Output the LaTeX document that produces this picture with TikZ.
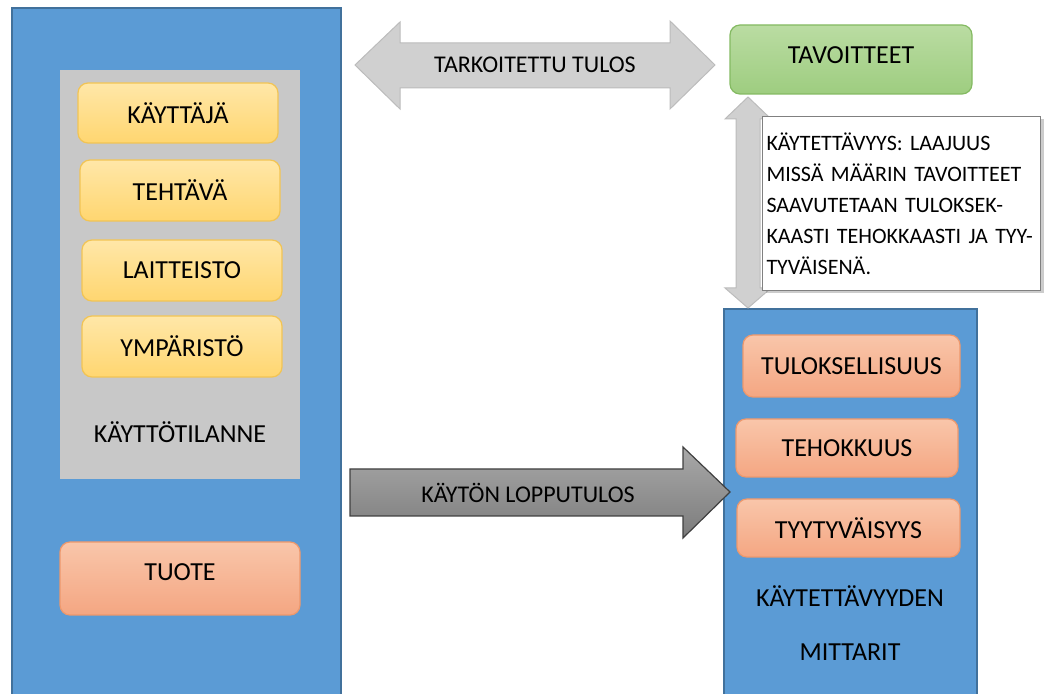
\documentclass[tikz,border=0pt]{standalone}
\usepackage{fontspec}
\setmainfont{Carlito}
\usetikzlibrary{fit,calc,shadows}
\definecolor{B}{RGB}{91,155,213}
\definecolor{Bline}{RGB}{65,113,156}
\definecolor{S}{RGB}{200,200,200}
\definecolor{Ytop}{RGB}{255,231,168}
\definecolor{Ybot}{RGB}{255,214,112}
\definecolor{Yline}{RGB}{242,196,84}
\definecolor{Otop}{RGB}{249,198,170}
\definecolor{Obot}{RGB}{244,166,130}
\definecolor{Oline}{RGB}{238,152,108}
\definecolor{Gtop}{RGB}{186,220,162}
\definecolor{Gbot}{RGB}{158,205,128}
\definecolor{Gline}{RGB}{132,186,98}
\definecolor{A}{RGB}{208,208,208}
\definecolor{Aline}{RGB}{188,188,188}
\definecolor{Dtop}{RGB}{168,168,168}
\definecolor{Dbot}{RGB}{124,124,124}
\tikzset{
  panel/.style={draw=Bline, fill=B, line width=1pt, inner sep=0pt},
  situation/.style={fill=S, inner sep=0pt},
  boxtext/.style={font=\fontsize{13}{15}\selectfont, inner sep=0pt},
  factor/.style={draw=Yline, line width=.6pt, top color=Ytop, bottom color=Ybot,
    rounded corners=5pt, inner sep=0pt, label={[boxtext]center:#1}},
  measure/.style={draw=Oline, line width=.6pt, top color=Otop, bottom color=Obot,
    rounded corners=5pt, inner sep=0pt, label={[boxtext]center:#1}},
  product/.style={draw=Oline, line width=.6pt, top color=Otop, bottom color=Obot,
    rounded corners=5pt, inner sep=0pt, label={[boxtext, yshift=3pt]center:#1}},
  goal/.style={draw=Gline, line width=.6pt, top color=Gtop, bottom color=Gbot,
    rounded corners=5pt, inner sep=0pt, label={[boxtext, yshift=2pt]center:#1}},
  paneltext/.style={font=\fontsize{13}{15}\selectfont},
  arrowtext/.style={font=\fontsize{12}{14}\selectfont},
  notebox/.style={draw=gray, fill=white, line width=.5pt, anchor=north west,
    text width=135pt, inner xsep=2pt, minimum height=87pt, align=left,
    drop shadow={shadow xshift=1.5pt, shadow yshift=-1.5pt, opacity=.4},
    font=\fontsize{11}{15.5}\selectfont\frenchspacing},
  larrow/.style={fill=A, draw=Aline, line width=.5pt},
  darrow/.style={top color=Dtop, bottom color=Dbot, draw=black!75, line width=.6pt}
}
\begin{document}
\begin{tikzpicture}[x=0.5pt, y=-0.5pt]
\useasboundingbox (0,0) rectangle (1045,694);
% left column: context of use and product
\node[panel, fit={(12,8) (341,698)}] (ctx) {};
\node[situation, fit={(60,70) (300,479)}] (sit) {};
\node[factor=KÄYTTÄJÄ, fit={(78,83) (278,143)}] (user) {};
\node[factor=TEHTÄVÄ, fit={(80,160) (280,221)}] (task) {};
\node[factor=LAITTEISTO, fit={(82,240) (282,301)}] (equip) {};
\node[factor=YMPÄRISTÖ, fit={(82,316) (282,377)}] (env) {};
\node[paneltext] (sitt) at (180,432) {KÄYTTÖTILANNE};
\node[product=TUOTE, fit={(60,542) (300,615)}] (prod) {};
% right column: goals and measures
\node[goal=TAVOITTEET, fit={(730,25) (972,94)}] (goals) {};
\node[panel, fit={(724,309) (977,698)}] (mit) {};
\node[measure=TULOKSELLISUUS, fit={(743,335) (960,397)}] (eff) {};
\node[measure=TEHOKKUUS, fit={(736,419) (958,477)}] (effic) {};
\node[measure=TYYTYVÄISYYS, fit={(737,499) (960,557)}] (sat) {};
\node[paneltext] (mitt1) at (850,596) {KÄYTETTÄVYYDEN};
\node[paneltext] (mitt2) at (850,652) {MITTARIT};
% intended outcome
\coordinate (tl) at (355,65);
\coordinate (tr) at (715,65);
\draw[larrow] (tl) -- ++(45,-43) -- ++(0,21) -- ($(tr)+(-45,-22)$) -- ++(0,-22) -- (tr)
  -- ++(-45,44) -- ++(0,-21) -- ($(tl)+(45,23)$) -- ++(0,21) -- cycle;
\node[arrowtext] (intended) at ($(tl)!.5!(tr)$) {TARKOITETTU TULOS};
% outcome of use
\coordinate (bs) at (350,492);
\coordinate (be) at (730,492);
\draw[darrow] ($(bs)+(0,-23)$) -- ($(be)+(-47,-23)$) -- ++(0,-22) -- (be) -- ++(-47,46)
  -- ++(0,-22) -- ($(bs)+(0,24)$) -- cycle;
\node[arrowtext] (outcome) at (528,493) {KÄYTÖN LOPPUTULOS};
% usability link
\coordinate (vt) at (748,97);
\coordinate (vb) at (748,308);
\draw[larrow] (vt) -- ++(23,22) -- ++(-11,0) -- ($(vb)+(12,-20)$) -- ++(11,0) -- (vb)
  -- ++(-23,-20) -- ++(11,0) -- ($(vt)+(-12,22)$) -- ++(-11,0) -- cycle;
\node[notebox] (note) at (762,116) {KÄYTETTÄVYYS: LAAJUUS\\MISSÄ MÄÄRIN TAVOITTEET\\SAAVUTETAAN TULOKSEK-\\KAASTI TEHOKKAASTI JA TYY-\\TYVÄISENÄ.};
\end{tikzpicture}
\end{document}
